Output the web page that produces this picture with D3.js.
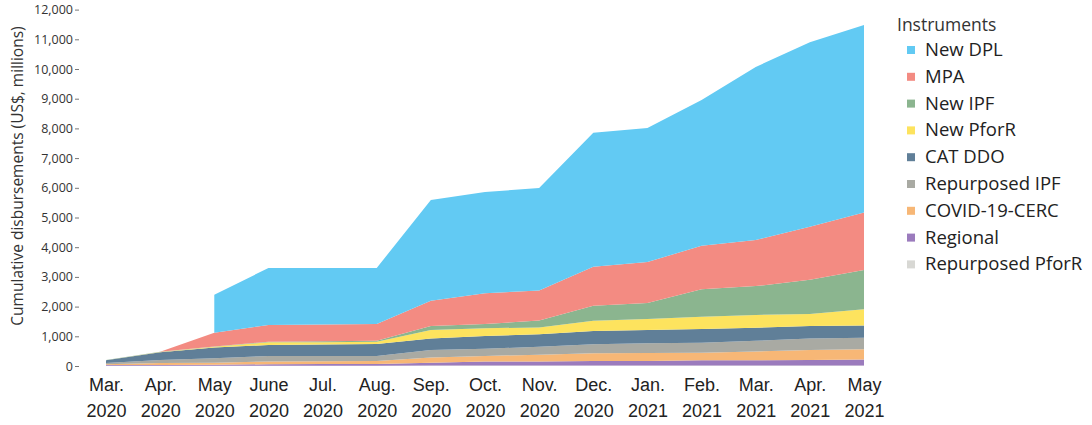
<!DOCTYPE html>
<html>
<head>
<meta charset="utf-8">
<script src="https://cdn.jsdelivr.net/npm/d3@7"></script>
<style>
  html, body { margin: 0; padding: 0; background: #fff; }
  svg { display: block; font-family: "Open Sans", "Noto Sans", sans-serif; }
</style>
</head>
<body>
<svg id="chart" width="1092" height="425"></svg>
<script>
// ---- Data (US$ millions, cumulative) ----
const monthLabels = ["Mar.","Apr.","May","June","Jul.","Aug.","Sep.","Oct.","Nov.","Dec.","Jan.","Feb.","Mar.","Apr.","May"];
const yearLabels  = ["2020","2020","2020","2020","2020","2020","2020","2020","2020","2020","2021","2021","2021","2021","2021"];

const repurposedPforR = [5, 5, 10, 10, 10, 10, 15, 15, 15, 20, 20, 20, 20, 20, 20];
const regional        = [25, 25, 30, 50, 60, 60, 95, 135, 135, 150, 150, 170, 170, 180, 200];
const covidCERC       = [30, 70, 70, 90, 90, 100, 180, 190, 230, 260, 270, 260, 300, 340, 340];
const repurposedIPF   = [40, 100, 150, 190, 180, 170, 250, 240, 270, 300, 330, 330, 360, 390, 390];
const catDDO          = [90, 260, 360, 370, 380, 400, 390, 430, 420, 450, 440, 470, 440, 420, 410];
const newPforR        = [0, 10, 30, 90, 80, 80, 280, 260, 230, 340, 370, 410, 430, 400, 550];
const newIPF          = [10, 10, 10, 20, 30, 30, 140, 140, 230, 510, 540, 920, 970, 1150, 1320];
const mpa             = [0, 0, 460, 560, 570, 560, 850, 1040, 1010, 1310, 1380, 1470, 1550, 1790, 1940];
const newDPL          = [null, null, 1280, 1920, 1900, 1890, 3390, 3410, 3450, 4510, 4510, 4910, 5830, 6210, 6310];

const yTicks = [0,1000,2000,3000,4000,5000,6000,7000,8000,9000,10000,11000,12000];

// stacking order bottom -> top
const seriesDefs = [
  {key: "Repurposed PforR", values: repurposedPforR, color: "#d8d8d4"},
  {key: "Regional",         values: regional,        color: "#9b7bbd"},
  {key: "COVID-19-CERC",    values: covidCERC,       color: "#f7b776"},
  {key: "Repurposed IPF",   values: repurposedIPF,   color: "#a9aaa3"},
  {key: "CAT DDO",          values: catDDO,          color: "#607f98"},
  {key: "New PforR",        values: newPforR,        color: "#fde35e"},
  {key: "New IPF",          values: newIPF,          color: "#8bb58f"},
  {key: "MPA",              values: mpa,             color: "#f38b82"},
  {key: "New DPL",          values: newDPL,          color: "#62caf3"}
];
const legendOrder = ["New DPL","MPA","New IPF","New PforR","CAT DDO","Repurposed IPF","COVID-19-CERC","Regional","Repurposed PforR"];

// ---- Build table ----
const table = monthLabels.map((m, i) => {
  const row = {i};
  seriesDefs.forEach(s => row[s.key] = s.values[i]);
  return row;
});

const svg = d3.select("#chart");
const x = d3.scaleLinear().domain([0, monthLabels.length - 1]).range([106, 864]);
const y = d3.scaleLinear().domain([0, 12000]).range([366, 9.6]);

const stack = d3.stack()
  .keys(seriesDefs.map(s => s.key))
  .value((d, k) => d[k] == null ? 0 : d[k]);
const stacked = stack(table);

const area = d3.area()
  .x(d => x(d.data.i))
  .y0(d => y(d[0]))
  .y1(d => y(d[1]));

svg.append("g").selectAll("path")
  .data(stacked)
  .join("path")
  .attr("fill", s => seriesDefs.find(d => d.key === s.key).color)
  .attr("d", s => area.defined(d => d.data[s.key] != null)(s));

// ---- Y axis ----
const yAxis = d3.axisLeft(y).tickValues(yTicks).tickSize(4).tickPadding(2)
  .tickFormat(d3.format(","));
const gy = svg.append("g").attr("transform", "translate(79,0)").call(yAxis);
gy.select(".domain").remove();
gy.selectAll(".tick line").attr("stroke", "#777");
gy.selectAll(".tick text").attr("fill", "#333").style("font-size", "12.5px")
  .style("font-family", "'Open Sans', 'Noto Sans', sans-serif");

svg.append("text")
  .attr("transform", "translate(23,176) rotate(-90)")
  .attr("text-anchor", "middle")
  .attr("fill", "#333")
  .style("font-size", "15.5px")
  .text("Cumulative disbursements (US$, millions)");

// ---- X axis labels ----
const xAxis = d3.axisBottom(x).tickValues(d3.range(monthLabels.length)).tickSize(0).tickFormat(() => "");
const gx = svg.append("g").attr("transform", "translate(0,370)").call(xAxis);
gx.select(".domain").remove();
gx.selectAll(".tick").each(function(d) {
  const t = d3.select(this).append("text").attr("fill", "#222")
    .attr("text-anchor", "middle").style("font-size", "18px");
  t.append("tspan").attr("x", 0).attr("y", 21).text(monthLabels[d]);
  t.append("tspan").attr("x", 0).attr("y", 47).text(yearLabels[d]);
});

// ---- Legend ----
const lg = svg.append("g").attr("transform", "translate(897,0)");
lg.append("text").attr("x", 0).attr("y", 31).attr("fill", "#333")
  .style("font-size", "17.5px").text("Instruments");
legendOrder.forEach((k, i) => {
  const s = seriesDefs.find(d => d.key === k);
  const cy = 50 + i * 26.8;
  lg.append("rect").attr("x", 10).attr("y", cy - 4).attr("width", 8).attr("height", 8).attr("fill", s.color);
  lg.append("text").attr("x", 28).attr("y", cy + 6).attr("fill", "#222")
    .style("font-size", "18.5px").text(k);
});
</script>
</body>
</html>
